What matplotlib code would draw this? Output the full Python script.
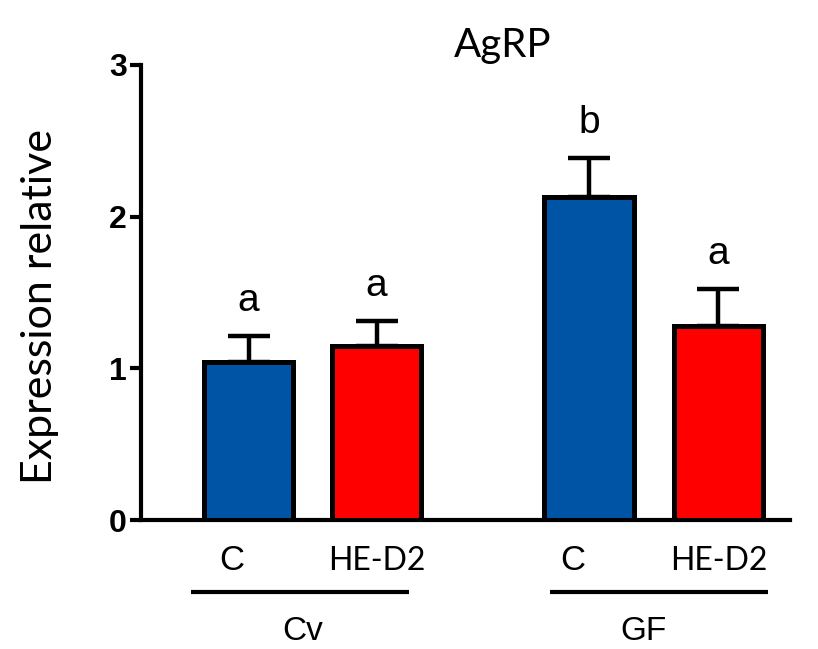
import matplotlib
matplotlib.use("Agg")
import matplotlib.pyplot as plt
import numpy as np

title = "AgRP"
ylabel = "Expression relative"
treatments = ["C", "HE-D2", "C", "HE-D2"]
groups = ["Cv", "GF"]
means = [1.04, 1.15, 2.13, 1.28]
errors = [0.17, 0.16, 0.26, 0.24]
letters = ["a", "a", "b", "a"]
colors = ["#0054A6", "#FF0000", "#0054A6", "#FF0000"]
positions = [0.0, 1.0, 2.66, 3.67]
yticks = [0, 1, 2, 3]

fig = plt.figure(figsize=(8.18, 6.49), dpi=100)
ax = fig.add_axes([141/818, 1-520/649, (790-141)/818, (520-65)/649])

ax.bar(positions, means, width=0.7, color=colors, edgecolor="black",
       linewidth=3.6, zorder=3)
ax.errorbar(positions, means, yerr=[np.zeros(len(errors)), errors], fmt="none",
            ecolor="black", elinewidth=3.2, capsize=15, capthick=3.2, zorder=2)

for x, m, e, l in zip(positions, means, errors, letters):
    ax.annotate(l, (x, m + e), xytext=(0, 18), textcoords="offset points",
                ha="center", va="baseline", fontsize=28, family="Liberation Sans")

ax.set_xlim(-0.84, 4.23)
ax.set_ylim(0, 3)
ax.set_yticks(yticks)
ax.set_yticklabels([str(t) for t in yticks], fontsize=23, fontweight="bold",
                   family="Liberation Sans")
ax.tick_params(axis="y", length=8, width=3, pad=2)
ax.set_xticks([])
for s in ["top", "right"]:
    ax.spines[s].set_visible(False)
ax.spines["left"].set_linewidth(3)
ax.spines["bottom"].set_linewidth(3)

trans = ax.get_xaxis_transform()
for x, t in zip(positions, treatments):
    if t == "C":
        ax.text(x - 0.13, -0.11, t, transform=trans, ha="center", va="baseline",
                fontsize=25, family="Liberation Sans")
    else:
        ax.text(x, -0.11, t, transform=trans, ha="center", va="baseline",
                fontsize=23, family="Lato")

line_shift = [-0.1, 0.04]
for i, g in enumerate(groups):
    c = (positions[2*i] + positions[2*i+1]) / 2
    ax.plot([c + line_shift[i] - 0.85, c + line_shift[i] + 0.85], [-0.158, -0.158],
            transform=trans, color="black", linewidth=3, clip_on=False,
            solid_capstyle="butt")
    ax.text(c - 0.08, -0.264, g, transform=trans, ha="center", va="baseline",
            fontsize=24, family="Liberation Sans")

fig.text(503/818, 1-45/649, title, ha="center", va="center", fontsize=29, family="Lato")
fig.text(40/818, 1-307/649, ylabel, ha="center", va="center", rotation=90,
         fontsize=31, family="Lato")

fig.savefig("out.png", dpi=100)
